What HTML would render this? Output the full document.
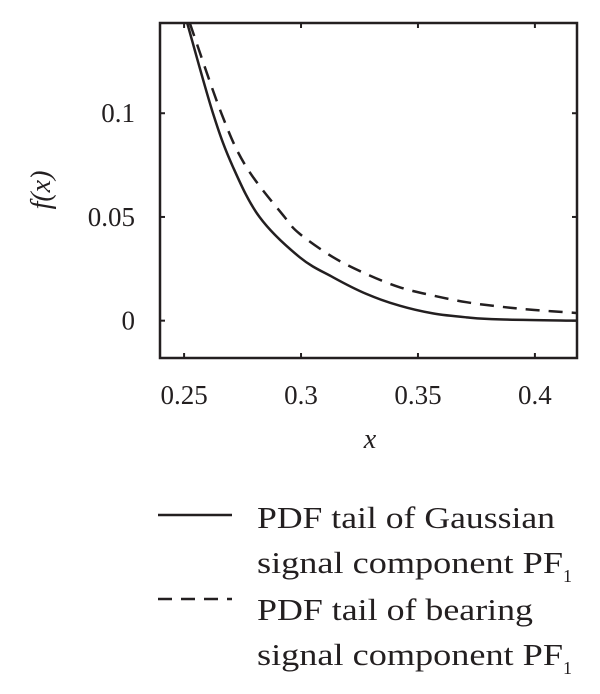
<!DOCTYPE html>
<html><head><meta charset="utf-8"><style>
html,body{margin:0;padding:0;background:#fff;}
svg{display:block;font-family:"Liberation Serif",serif;fill:#231f20;}
</style></head><body>
<svg width="600" height="694" viewBox="0 0 600 694">
<defs><clipPath id="pc"><rect x="160" y="23" width="417" height="335"/></clipPath></defs>
<g id="plot"></g>
<g id="axes"></g>
<text x="370" y="448" font-size="28" font-style="italic" text-anchor="middle">x</text>
<text transform="translate(50,190) rotate(-90)" font-size="28" font-style="italic" text-anchor="middle">f(x)</text>
<g>
<line x1="158" y1="515" x2="232" y2="515" stroke="#231f20" stroke-width="2.5"/>
<text x="257" y="528" font-size="31" textLength="298" lengthAdjust="spacingAndGlyphs">PDF tail of Gaussian</text>
<text x="257" y="573" font-size="31"><tspan textLength="306" lengthAdjust="spacingAndGlyphs">signal component PF</tspan><tspan font-size="18" dy="9">1</tspan></text>
<line x1="158" y1="599" x2="232" y2="599" stroke="#231f20" stroke-width="2.5" stroke-dasharray="14,9"/>
<text x="257" y="620" font-size="31" textLength="276" lengthAdjust="spacingAndGlyphs">PDF tail of bearing</text>
<text x="257" y="665" font-size="31"><tspan textLength="306" lengthAdjust="spacingAndGlyphs">signal component PF</tspan><tspan font-size="18" dy="9">1</tspan></text>
</g>
</svg>
<script>
const xTicks=[0.25,0.3,0.35,0.4];
const xTickLabels=["0.25","0.3","0.35","0.4"];
const yTicks=[0,0.05,0.1];
const yTickLabels=["0","0.05","0.1"];
const gaussX=[0.2513,0.2624,0.2709,0.2823,0.2994,0.3137,0.3279,0.3422,0.3564,0.3707,0.3849,0.4177];
const gaussY=[0.1436,0.0998,0.0741,0.0499,0.0306,0.0209,0.0129,0.0072,0.0035,0.0016,0.0006,0.0];
const bearX=[0.2524,0.266,0.2766,0.293,0.2994,0.3137,0.3279,0.3422,0.3564,0.3707,0.3849,0.3992,0.4177];
const bearY=[0.1436,0.0998,0.0741,0.0499,0.0419,0.0306,0.0225,0.0161,0.0121,0.0089,0.0068,0.0052,0.0037];
const X0=0.2397,X1=0.418,Y0=-0.018,Y1=0.1435;
const L=160,R=577,T=23,B=358;
const sx=v=>L+(v-X0)/(X1-X0)*(R-L);
const sy=v=>B-(v-Y0)/(Y1-Y0)*(B-T);
const NS="http://www.w3.org/2000/svg";
function mk(t,a,p){const e=document.createElementNS(NS,t);for(const k in a)e.setAttribute(k,a[k]);p.appendChild(e);return e;}
function spline(xs,ys){const p=xs.map((x,i)=>[sx(x),sy(ys[i])]);let d="M"+p[0][0]+","+p[0][1];
for(let i=0;i<p.length-1;i++){const p0=p[Math.max(0,i-1)],p1=p[i],p2=p[i+1],p3=p[Math.min(p.length-1,i+2)];
d+=" C"+(p1[0]+(p2[0]-p0[0])/6)+","+(p1[1]+(p2[1]-p0[1])/6)+" "+(p2[0]-(p3[0]-p1[0])/6)+","+(p2[1]-(p3[1]-p1[1])/6)+" "+p2[0]+","+p2[1];}
return d;}
const plot=document.getElementById('plot');plot.setAttribute('clip-path','url(#pc)');
const s1=mk('path',{d:spline(gaussX,gaussY),fill:'none',stroke:'#231f20','stroke-width':2.5},plot);


const s2=mk('path',{d:spline(bearX,bearY),fill:'none',stroke:'#231f20','stroke-width':2.5,'stroke-dasharray':'14,9'},plot);


const ax=document.getElementById('axes');
const box=mk('rect',{x:L,y:T,width:R-L,height:B-T,fill:'none',stroke:'#231f20','stroke-width':2.5},ax);


xTicks.forEach((v,i)=>{const x=sx(v);
mk('line',{x1:x,y1:B,x2:x,y2:B-5,stroke:'#231f20','stroke-width':2},ax);
mk('line',{x1:x,y1:T,x2:x,y2:T+5,stroke:'#231f20','stroke-width':2},ax);
const t=mk('text',{x:x,y:404,'font-size':27,'text-anchor':'middle'},ax);t.textContent=xTickLabels[i];

});
yTicks.forEach((v,i)=>{const y=sy(v);
mk('line',{x1:L,y1:y,x2:L+5,y2:y,stroke:'#231f20','stroke-width':2},ax);
mk('line',{x1:R,y1:y,x2:R-5,y2:y,stroke:'#231f20','stroke-width':2},ax);
const t=mk('text',{x:135,y:y+9,'font-size':27,'text-anchor':'end'},ax);t.textContent=yTickLabels[i];

});
</script>
</body></html>
